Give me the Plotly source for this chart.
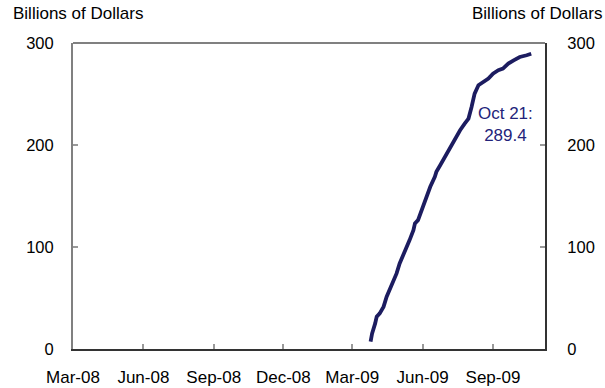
import plotly.graph_objects as go

# Cumulative purchases (billions of dollars)
dates = [
    "2009-03-25", "2009-03-27", "2009-03-31", "2009-04-02", "2009-04-06",
    "2009-04-11", "2009-04-15", "2009-04-19", "2009-04-24", "2009-04-28",
    "2009-05-02", "2009-05-07", "2009-05-11", "2009-05-15", "2009-05-20",
    "2009-05-22", "2009-05-26", "2009-05-29", "2009-06-02", "2009-06-06",
    "2009-06-11", "2009-06-17", "2009-06-19", "2009-06-24", "2009-06-30",
    "2009-07-07", "2009-07-13", "2009-07-20", "2009-07-26", "2009-07-31",
    "2009-08-04", "2009-08-08", "2009-08-13", "2009-08-19", "2009-08-26",
    "2009-09-01", "2009-09-08", "2009-09-14", "2009-09-21", "2009-09-28",
    "2009-10-06", "2009-10-15", "2009-10-21",
]
values = [
    7.2, 15.3, 25.1, 31.7, 34.9,
    41.5, 51.3, 57.8, 65.9, 74.1,
    83.9, 92.1, 100.2, 106.8, 116.6,
    123.1, 126.3, 132.9, 139.4, 149.2,
    159.0, 168.8, 173.7, 180.2, 188.4,
    198.2, 206.3, 214.5, 221.0, 225.9,
    237.3, 250.4, 258.6, 261.8, 265.1,
    270.0, 273.3, 274.9, 279.8, 283.0,
    286.3, 288.0, 289.4,
]

x_tick_vals = ["2008-03-01", "2008-06-01", "2008-09-01", "2008-12-01",
               "2009-03-01", "2009-06-01", "2009-09-01"]
x_tick_text = ["Mar-08", "Jun-08", "Sep-08", "Dec-08", "Mar-09", "Jun-09", "Sep-09"]
y_tick_vals = [0, 100, 200, 300]
y_tick_text = ["0", "100", "200", "300"]

label_text = "Oct 21:<br>289.4"
unit_text = "Billions of Dollars"

NAVY = "#1c1c60"
FONT = "Liberation Sans, Arial, sans-serif"
TXT = "#000000"

fig = go.Figure()
fig.add_trace(go.Scatter(x=dates, y=values, mode="lines",
                         line=dict(color=NAVY, width=3.8),
                         showlegend=False, hoverinfo="skip"))
# invisible trace for the right axis
fig.add_trace(go.Scatter(x=[dates[0]], y=[values[0]], yaxis="y2", mode="lines",
                         line=dict(width=0), showlegend=False, hoverinfo="skip"))

fig.update_layout(
    width=605, height=388,
    margin=dict(l=73, r=60, t=43, b=39, autoexpand=False),
    paper_bgcolor="white", plot_bgcolor="white",
    font=dict(family=FONT, size=17, color=TXT),
    xaxis=dict(
        type="date", range=["2008-03-01", "2009-11-08"],
        tickvals=x_tick_vals, ticktext=x_tick_text,
        ticks="inside", ticklen=5, tickwidth=1.5, tickcolor="#999999",
        showgrid=False, zeroline=False, automargin=False,
        showline=True, linecolor="#333333", linewidth=2,
        tickfont=dict(size=17, color=TXT), ticklabelstandoff=12,
    ),
    yaxis=dict(
        range=[0, 300], tickvals=y_tick_vals, ticktext=y_tick_text,
        ticks="inside", ticklen=5, tickwidth=1.5, tickcolor="#999999",
        showgrid=False, zeroline=False, automargin=False,
        showline=True, linecolor="#808080", linewidth=2,
        tickfont=dict(size=16.5, color=TXT), ticklabelstandoff=14,
    ),
    yaxis2=dict(
        range=[0, 300], tickvals=y_tick_vals, ticktext=y_tick_text,
        overlaying="y", side="right",
        ticks="inside", ticklen=5, tickwidth=1.5, tickcolor="#999999",
        showgrid=False, zeroline=False, automargin=False,
        showline=True, linecolor="#333333", linewidth=2,
        tickfont=dict(size=16.5, color=TXT), ticklabelstandoff=17,
    ),
    shapes=[dict(type="line", xref="paper", yref="paper", x0=0, x1=1, y0=1, y1=1,
                 line=dict(color="#808080", width=2))],
    annotations=[
        dict(text=unit_text, xref="paper", yref="paper", x=-0.131, y=1.095,
             xanchor="left", yanchor="middle", showarrow=False,
             font=dict(size=17, color=TXT)),
        dict(text=unit_text, xref="paper", yref="paper", x=1.125, y=1.095,
             xanchor="right", yanchor="middle", showarrow=False,
             font=dict(size=17, color=TXT)),
        dict(text=label_text, xref="x", yref="y", x="2009-09-18", y=220,
             xanchor="center", yanchor="middle", showarrow=False, align="center",
             font=dict(size=17, color="#23237a")),
    ],
)

fig.write_html("out.html", config={"displayModeBar": False},
               post_script="document.body.style.margin='0';document.body.style.padding='0';")
